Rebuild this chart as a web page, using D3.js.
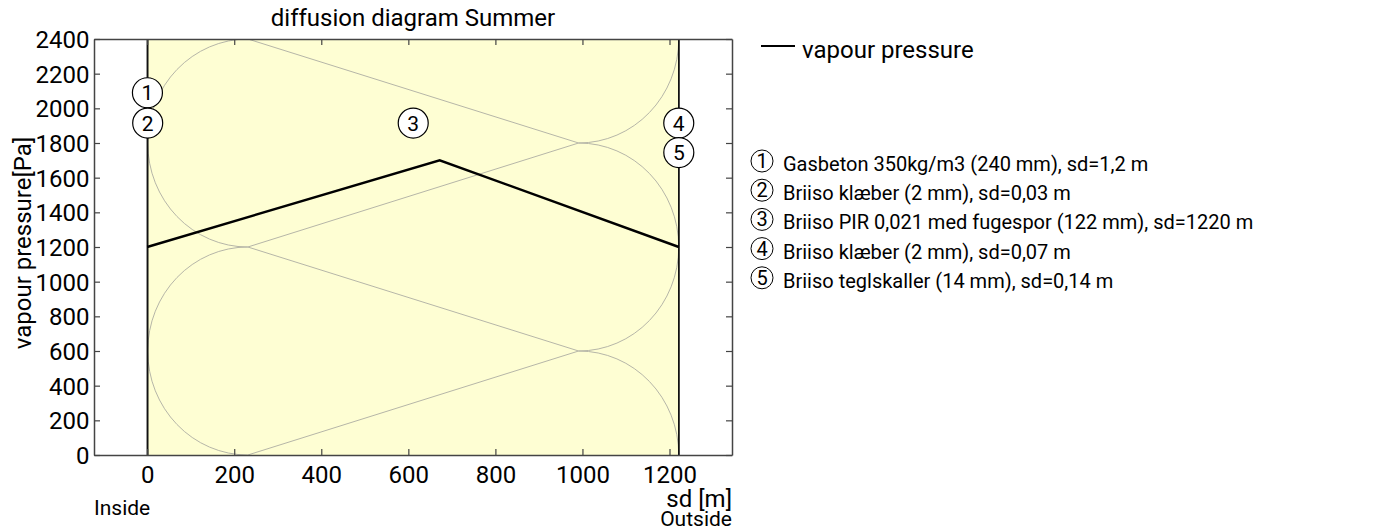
<!DOCTYPE html>
<html><head><meta charset="utf-8">
<script src="https://cdn.jsdelivr.net/npm/d3@7"></script>
<style>
body{margin:0;background:#fff;}
text{font-family:Roboto,"Noto Sans",sans-serif;fill:#000;}
</style></head>
<body>
<svg id="chart" width="1378" height="528"></svg>
<script>
// ---- data ----
const layerDigits = ["1","2","3","4","5"];
const layerNames = [
  "Gasbeton 350kg/m3 (240 mm), sd=1,2 m",
  "Briiso klæber (2 mm), sd=0,03 m",
  "Briiso PIR 0,021 med fugespor (122 mm), sd=1220 m",
  "Briiso klæber (2 mm), sd=0,07 m",
  "Briiso teglskaller (14 mm), sd=0,14 m"
];
const layerSd = [1.2, 0.03, 1220, 0.07, 0.14];
const layerLabelY = [2090, 1915, 1915, 1915, 1745];
const vpX = [0, 672, 1221.44];
const vpY = [1200, 1700, 1200];
const xTicks = [0, 200, 400, 600, 800, 1000, 1200];
const yTicks = [0, 200, 400, 600, 800, 1000, 1200, 1400, 1600, 1800, 2000, 2200, 2400];

// ---- layout ----
const svg = d3.select("#chart");
const L = 94, R = 732, T = 39, B = 455;
const total = d3.sum(layerSd);
const x = d3.scaleLinear().domain([-0.1 * total, 1.1 * total]).range([L, R]);
const y = d3.scaleLinear().domain([0, 2400]).range([B, T]);

const bounds = [0];
layerSd.forEach(s => bounds.push(bounds[bounds.length - 1] + s));

svg.append("defs").append("clipPath").attr("id", "clip")
  .append("rect").attr("x", L).attr("y", T).attr("width", R - L).attr("height", B - T);

const plot = svg.append("g").attr("clip-path", "url(#clip)");

plot.selectAll("rect.layer").data(layerSd).join("rect")
  .attr("class", "layer")
  .attr("x", (d, i) => x(bounds[i]))
  .attr("width", (d, i) => x(bounds[i + 1]) - x(bounds[i]))
  .attr("y", y(2400)).attr("height", y(0) - y(2400))
  .attr("fill", "#fefed3");

// insulation symbol in layer 3
(function () {
  const lx = x(bounds[2]), rxb = x(bounds[3]);
  const rx = x(230) - x(0), ry = y(0) - y(600);
  const c1 = lx + rx, c2 = rxb - rx;
  let p = "";
  p += `M${c1},${y(2400)}A${rx},${ry} 0 0 0 ${c1},${y(1200)}A${rx},${ry} 0 0 0 ${c1},${y(0)}`;
  p += `M${c1},${y(2400)}L${c2},${y(1800)}L${c1},${y(1200)}L${c2},${y(600)}L${c1},${y(0)}`;
  p += `M${c2},${y(1800)}A${rx},${ry} 0 0 0 ${rxb},${y(2400)}`;
  p += `M${c2},${y(1800)}A${rx},${ry} 0 0 1 ${c2},${y(600)}`;
  p += `M${c2},${y(600)}A${rx},${ry} 0 0 1 ${rxb},${y(0)}`;
  plot.append("path").attr("d", p).attr("fill", "none")
    .attr("stroke", "#b6b6a8").attr("stroke-width", 1);
})();

plot.selectAll("line.bound").data(bounds).join("line")
  .attr("class", "bound")
  .attr("x1", d => x(d)).attr("x2", d => x(d))
  .attr("y1", y(2400)).attr("y2", y(0))
  .attr("stroke", "#111").attr("stroke-width", 1.2);

const vp = vpX.map((d, i) => [d, vpY[i]]);
plot.append("path").datum(vp)
  .attr("d", d3.line().x(d => x(d[0])).y(d => y(d[1])))
  .attr("fill", "none").attr("stroke", "#000").attr("stroke-width", 2.4);

// axes (frame with inward ticks)
const frameColor = "#444";
const axB = svg.append("g").attr("transform", `translate(0,${B})`)
  .call(d3.axisBottom(x).tickValues(xTicks).tickSizeInner(-6).tickSizeOuter(0).tickPadding(11).tickFormat(d3.format("d")));
const axT = svg.append("g").attr("transform", `translate(0,${T})`)
  .call(d3.axisTop(x).tickValues(xTicks).tickSizeInner(-6).tickSizeOuter(0).tickFormat(""));
const axL = svg.append("g").attr("transform", `translate(${L},0)`)
  .call(d3.axisLeft(y).tickValues(yTicks).tickSizeInner(-6).tickSizeOuter(0).tickPadding(4.5).tickFormat(d3.format("d")));
const axR = svg.append("g").attr("transform", `translate(${R},0)`)
  .call(d3.axisRight(y).tickValues(yTicks).tickSizeInner(-6).tickSizeOuter(0).tickFormat(""));
[axB, axT, axL, axR].forEach(a => {
  a.select(".domain").attr("stroke", frameColor).attr("stroke-width", 1.5);
  a.selectAll(".tick line").attr("stroke", frameColor).attr("stroke-width", 1.2);
  a.selectAll(".tick text").attr("font-family", "Roboto").attr("font-size", 24).attr("fill", "#000");
});
axB.selectAll(".tick text").attr("dy", "0.71em");
axL.selectAll(".tick text").attr("dy", "0.355em");

// in-plot layer labels
const lab = svg.append("g").selectAll("g").data(layerDigits).join("g")
  .attr("transform", (d, i) => `translate(${x((bounds[i] + bounds[i + 1]) / 2)},${y(layerLabelY[i])})`);
lab.append("circle").attr("r", 15).attr("fill", "#fff").attr("stroke", "#000").attr("stroke-width", 1.2);
lab.append("text").text(d => d).attr("text-anchor", "middle").attr("dy", "0.36em").attr("font-size", 21);

// title
svg.append("text").attr("x", (L + R) / 2).attr("y", 26).attr("text-anchor", "middle")
  .attr("font-size", 24).text("diffusion diagram Summer");

// axis titles
svg.append("text").attr("transform", `translate(31,243) rotate(-90)`).attr("text-anchor", "middle")
  .attr("font-size", 24).text("vapour pressure[Pa]");
svg.append("text").attr("x", L).attr("y", 515).attr("font-size", 21).text("Inside");
svg.append("text").attr("x", R).attr("y", 507).attr("text-anchor", "end").attr("font-size", 24).text("sd [m]");
svg.append("text").attr("x", R).attr("y", 526).attr("text-anchor", "end").attr("font-size", 21).text("Outside");

// legend
svg.append("line").attr("x1", 761).attr("x2", 795).attr("y1", 46).attr("y2", 46)
  .attr("stroke", "#000").attr("stroke-width", 2.2);
svg.append("text").attr("x", 802).attr("y", 58).attr("font-size", 24).text("vapour pressure");

const lg = svg.append("g").selectAll("g").data(layerNames).join("g")
  .attr("transform", (d, i) => `translate(0,${161 + i * 29.2})`);
lg.append("circle").attr("cx", 762).attr("r", 11).attr("fill", "none").attr("stroke", "#000").attr("stroke-width", 1);
lg.append("text").attr("x", 762).attr("y", 7).attr("text-anchor", "middle").attr("font-size", 20)
  .text((d, i) => layerDigits[i]);
lg.append("text").attr("x", 783).attr("y", 10).attr("font-size", 20).text(d => d);
</script>
</body></html>
